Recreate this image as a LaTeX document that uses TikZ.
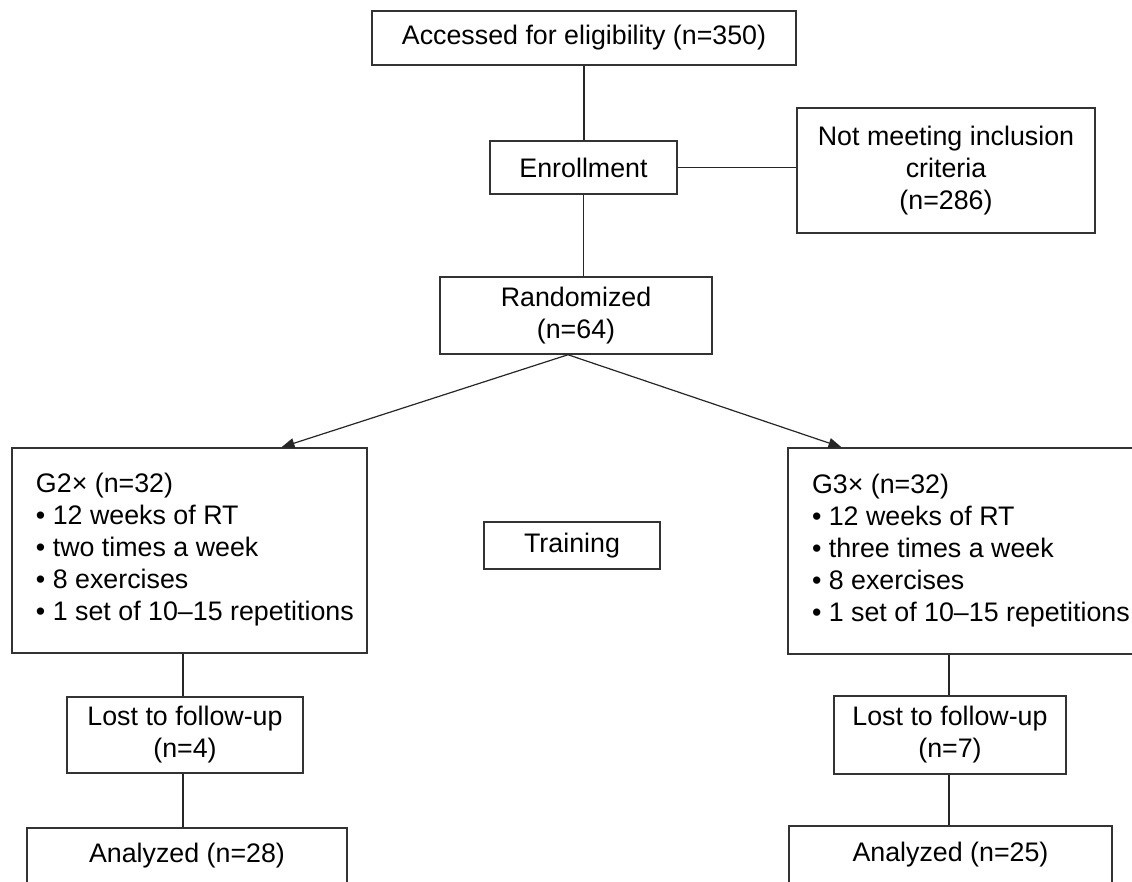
\documentclass[tikz,border=0pt]{standalone}
\usepackage{fontspec}
\setmainfont{Liberation Sans}
\usetikzlibrary{arrows.meta}
\tikzset{
  box/.style={draw=black!80, line width=1.5pt, rectangle, inner sep=0pt, align=center,
    font=\fontsize{26.8}{32}\selectfont},
  conn/.style={draw=black!85, line width=1.2pt},
  arr/.style={conn, -{Triangle[length=13pt,width=10pt]}}
}
\newcommand{\glist}[1]{\makebox[355pt][l]{\hspace{24pt}\begin{tabular}{@{}l@{}}#1\end{tabular}}}
\begin{document}
\begin{tikzpicture}[x=1pt,y=-1pt]
\useasboundingbox (0,0) rectangle (1132,882);
\clip (0,0) rectangle (1132,882);
\node[box, minimum width=424pt, minimum height=54pt] (top) at (584,38) {Accessed for eligibility (n=350)};
\node[box, minimum width=187pt, minimum height=53pt] (enroll) at (583.5,167.5) {Enrollment};
\node[box, minimum width=298pt, minimum height=125pt] (notmeet) at (946,170.5) {Not meeting inclusion\\criteria\\(n=286)};
\node[box, minimum width=272pt, minimum height=77pt] (rand) at (576,315.5) {Randomized\\(n=64)};
\node[box, minimum width=355pt, minimum height=205pt] (gtwo) at (189.5,550.5) {\glist{G2× (n=32)\\• 12 weeks of RT\\• two times a week\\• 8 exercises\\• 1 set of 10–15 repetitions}};
\node[box, minimum width=355pt, minimum height=206pt] (gthree) at (965.5,551) {\glist{G3× (n=32)\\• 12 weeks of RT\\• three times a week\\• 8 exercises\\• 1 set of 10–15 repetitions}};
\node[box, minimum width=176pt, minimum height=47pt] (train) at (572,545.5) {Training};
\node[box, minimum width=236pt, minimum height=76pt] (lostL) at (185,735) {Lost to follow-up\\(n=4)};
\node[box, minimum width=232pt, minimum height=78pt] (lostR) at (950,735) {Lost to follow-up\\(n=7)};
\node[box, minimum width=320pt, minimum height=56pt] (anaL) at (187,856) {Analyzed (n=28)};
\node[box, minimum width=323pt, minimum height=58pt] (anaR) at (950.5,855) {Analyzed (n=25)};
% connectors
\draw[conn] (top.south) -- (top.south |- enroll.north);
\draw[conn] (enroll.east) -- (enroll.east -| notmeet.west);
\draw[conn] (enroll.south) -- (enroll.south |- rand.north);
\draw[arr] ([xshift=-8pt]rand.south) -- ([xshift=92pt]gtwo.north);
\draw[arr] ([xshift=-8pt]rand.south) -- ([xshift=-124pt]gthree.north);
\draw[conn] (lostL.north -| 183,0) -- (gtwo.south -| 183,0);
\draw[conn] (lostL.south -| 183,0) -- (anaL.north -| 183,0);
\draw[conn] (lostR.north -| 949,0) -- (gthree.south -| 949,0);
\draw[conn] (lostR.south -| 949,0) -- (anaR.north -| 949,0);
\end{tikzpicture}
\end{document}
